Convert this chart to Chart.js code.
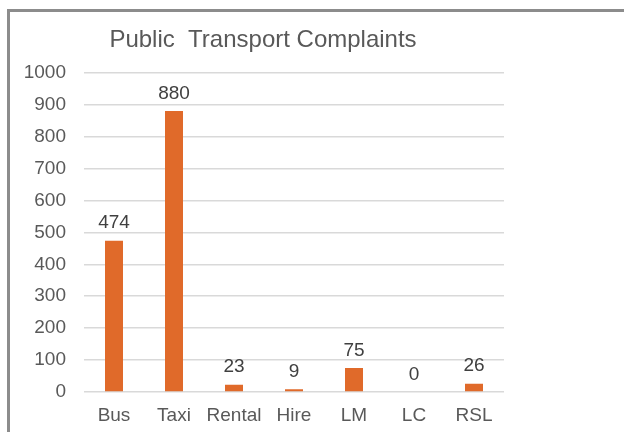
<!DOCTYPE html>
<html>
<head>
<meta charset="utf-8">
<script src="https://cdn.jsdelivr.net/npm/chart.js@4/dist/chart.umd.min.js"></script>
<style>
  html, body { margin: 0; padding: 0; background: #fff; overflow: hidden; }
  #wrap { position: relative; width: 624px; height: 432px; }
  #frame { position: absolute; left: 7px; top: 9px; width: 700px; height: 500px;
           border: 3px solid #8c8c8c; box-sizing: border-box; }
  canvas { position: absolute; left: 0; top: 0; }
</style>
</head>
<body>
<div id="wrap">
  <div id="frame"></div>
  <canvas id="chart" width="624" height="432"></canvas>
</div>
<script>
const categories = ['Bus', 'Taxi', 'Rental', 'Hire', 'LM', 'LC', 'RSL'];
const complaints = [474, 880, 23, 9, 75, 0, 26];
const yTicks = [0, 100, 200, 300, 400, 500, 600, 700, 800, 900, 1000];

const FONT = '"Liberation Sans", Arial, sans-serif';

// draws the value above each bar
const valueLabels = {
  id: 'valueLabels',
  afterDatasetsDraw(chart) {
    const ctx = chart.ctx;
    const meta = chart.getDatasetMeta(0);
    ctx.save();
    ctx.font = '19px ' + FONT;
    ctx.fillStyle = '#404040';
    ctx.textAlign = 'center';
    ctx.textBaseline = 'bottom';
    meta.data.forEach(function (bar, i) {
      ctx.fillText(String(complaints[i]), bar.x, bar.y - 8);
    });
    ctx.restore();
  }
};

new Chart(document.getElementById('chart'), {
  type: 'bar',
  data: {
    labels: categories,
    datasets: [{
      data: complaints,
      backgroundColor: '#e06a2a',
      barPercentage: 0.6,
      categoryPercentage: 0.5
    }]
  },
  options: {
    responsive: false,
    animation: false,
    layout: { padding: { left: 22, right: 120, top: 26, bottom: 5 } },
    plugins: {
      legend: { display: false },
      tooltip: { enabled: false },
      title: {
        display: true,
        text: 'Public  Transport Complaints',
        color: '#595959',
        font: { family: FONT, size: 24, weight: 'normal' },
        padding: { top: 0, bottom: 18 }
      }
    },
    scales: {
      x: {
        grid: { display: false, drawTicks: false },
        border: { display: false },
        afterFit(axis) { axis.height = 35; },
        ticks: {
          color: '#595959',
          padding: 12,
          maxRotation: 0,
          minRotation: 0,
          autoSkip: false,
          font: { family: FONT, size: 19 }
        }
      },
      y: {
        min: 0,
        max: 1000,
        afterBuildTicks(axis) {
          axis.ticks = yTicks.map(v => ({ value: v }));
        },
        afterFit(axis) { axis.width = 62; },
        grid: { color: '#d9d9d9', lineWidth: 1.5, drawTicks: false },
        border: { display: false },
        ticks: {
          color: '#595959',
          padding: 18,
          callback: v => String(v),
          font: { family: FONT, size: 19 }
        }
      }
    }
  },
  plugins: [valueLabels]
});
</script>
</body>
</html>
